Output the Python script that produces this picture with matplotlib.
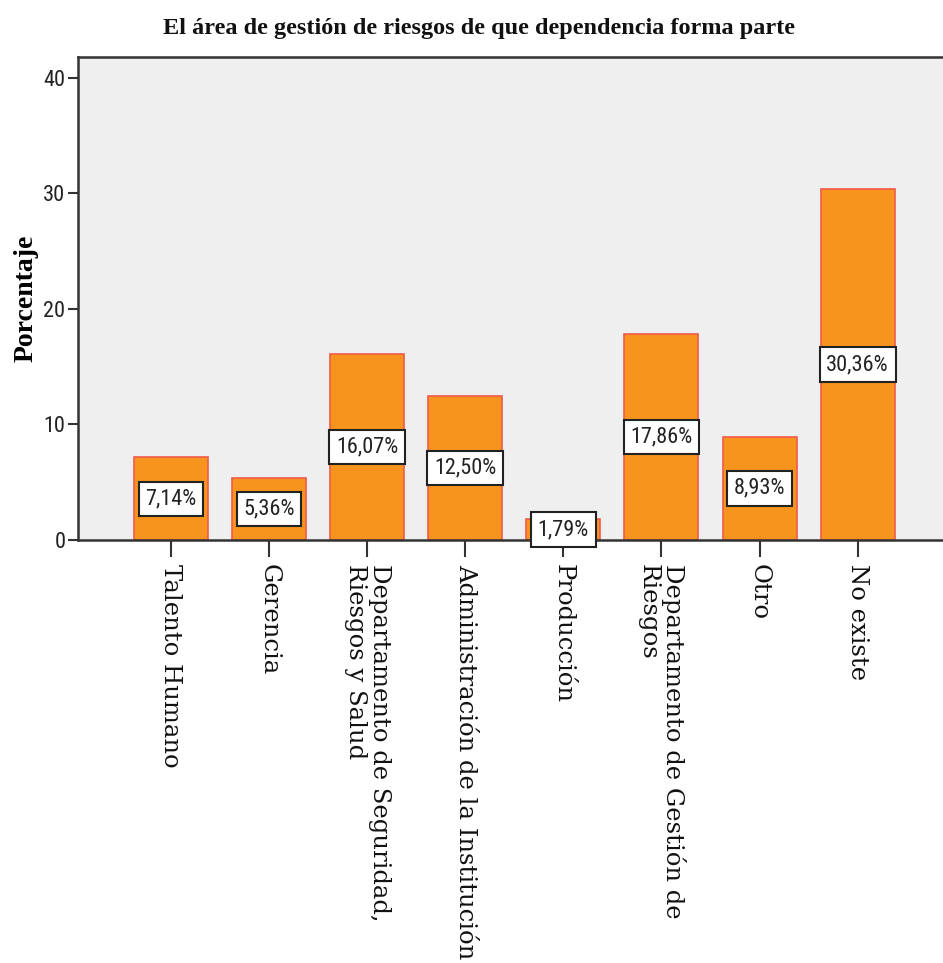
import matplotlib
matplotlib.use("Agg")
import matplotlib.pyplot as plt
from matplotlib import font_manager

categories = [
    "Talento Humano",
    "Gerencia",
    "Departamento de Seguridad,\nRiesgos y Salud",
    "Administración de la Institución",
    "Producción",
    "Departamento de Gestión de\nRiesgos",
    "Otro",
    "No existe",
]
values = [7.14, 5.36, 16.07, 12.50, 1.79, 17.86, 8.93, 30.36]
labels = ["7,14%", "5,36%", "16,07%", "12,50%", "1,79%", "17,86%", "8,93%", "30,36%"]
yticks = [0, 10, 20, 30, 40]

# pick a narrow sans if one is installed
installed = {f.name for f in font_manager.fontManager.ttflist}
narrow_name = None
for name in ["Liberation Sans Narrow", "DejaVu Sans Condensed", "Roboto Condensed", "Open Sans Condensed"]:
    if name in installed:
        narrow_name = name
        break
if narrow_name:
    narrow = dict(family=[narrow_name, "DejaVu Sans"])
else:
    narrow = dict(family=["DejaVu Sans"], stretch="condensed")

fig = plt.figure(figsize=(9.43, 9.63), dpi=100)
ax = fig.add_axes([0.0827, 0.4393, 0.9173, 0.5015])
ax.set_facecolor("#efefef")

x = list(range(len(values)))
ax.bar(x, values, width=0.755, color="#f7941d", edgecolor="#f05a4a", linewidth=1.2, zorder=2)

for xi, v, lab in zip(x, values, labels):
    ax.text(xi, v / 2, lab, ha="center", va="center", fontsize=16, color="#222222", zorder=3,
            bbox=dict(boxstyle="square,pad=0.3", facecolor="white", edgecolor="#222222", linewidth=1.5),
            **narrow)

ax.set_xlim(-0.948, 7.87)
ax.set_ylim(0, 41.8)
ax.set_yticks(yticks)
ax.set_yticklabels([str(t) for t in yticks], fontsize=16, color="#222222", **narrow)
ax.set_xticks(x)
ax.set_xticklabels(categories, rotation=270, ha="center", va="top", fontsize=17.5,
                   family=["DejaVu Serif"], color="#111111", linespacing=1.05)
for t in ax.get_xticklabels():
    t.set_multialignment("left")
ax.tick_params(axis="x", length=12, width=1.5, color="#333333", pad=5)
ax.tick_params(axis="y", length=7, width=1.5, color="#333333", pad=2)

for side in ["left", "bottom", "top"]:
    ax.spines[side].set_color("#333333")
    ax.spines[side].set_linewidth(1.8)
ax.spines["right"].set_visible(False)

ax.set_ylabel("Porcentaje", fontsize=20, fontweight="bold",
              family=["Liberation Serif", "DejaVu Serif"])
ax.yaxis.set_label_coords(-0.046, 0.5)
fig.text(0.508, 0.970, "El área de gestión de riesgos de que dependencia forma parte",
         ha="center", va="center", fontsize=17.5, fontweight="bold",
         family=["Liberation Serif", "DejaVu Serif"], color="#111111")

fig.savefig("out.png", dpi=100)
